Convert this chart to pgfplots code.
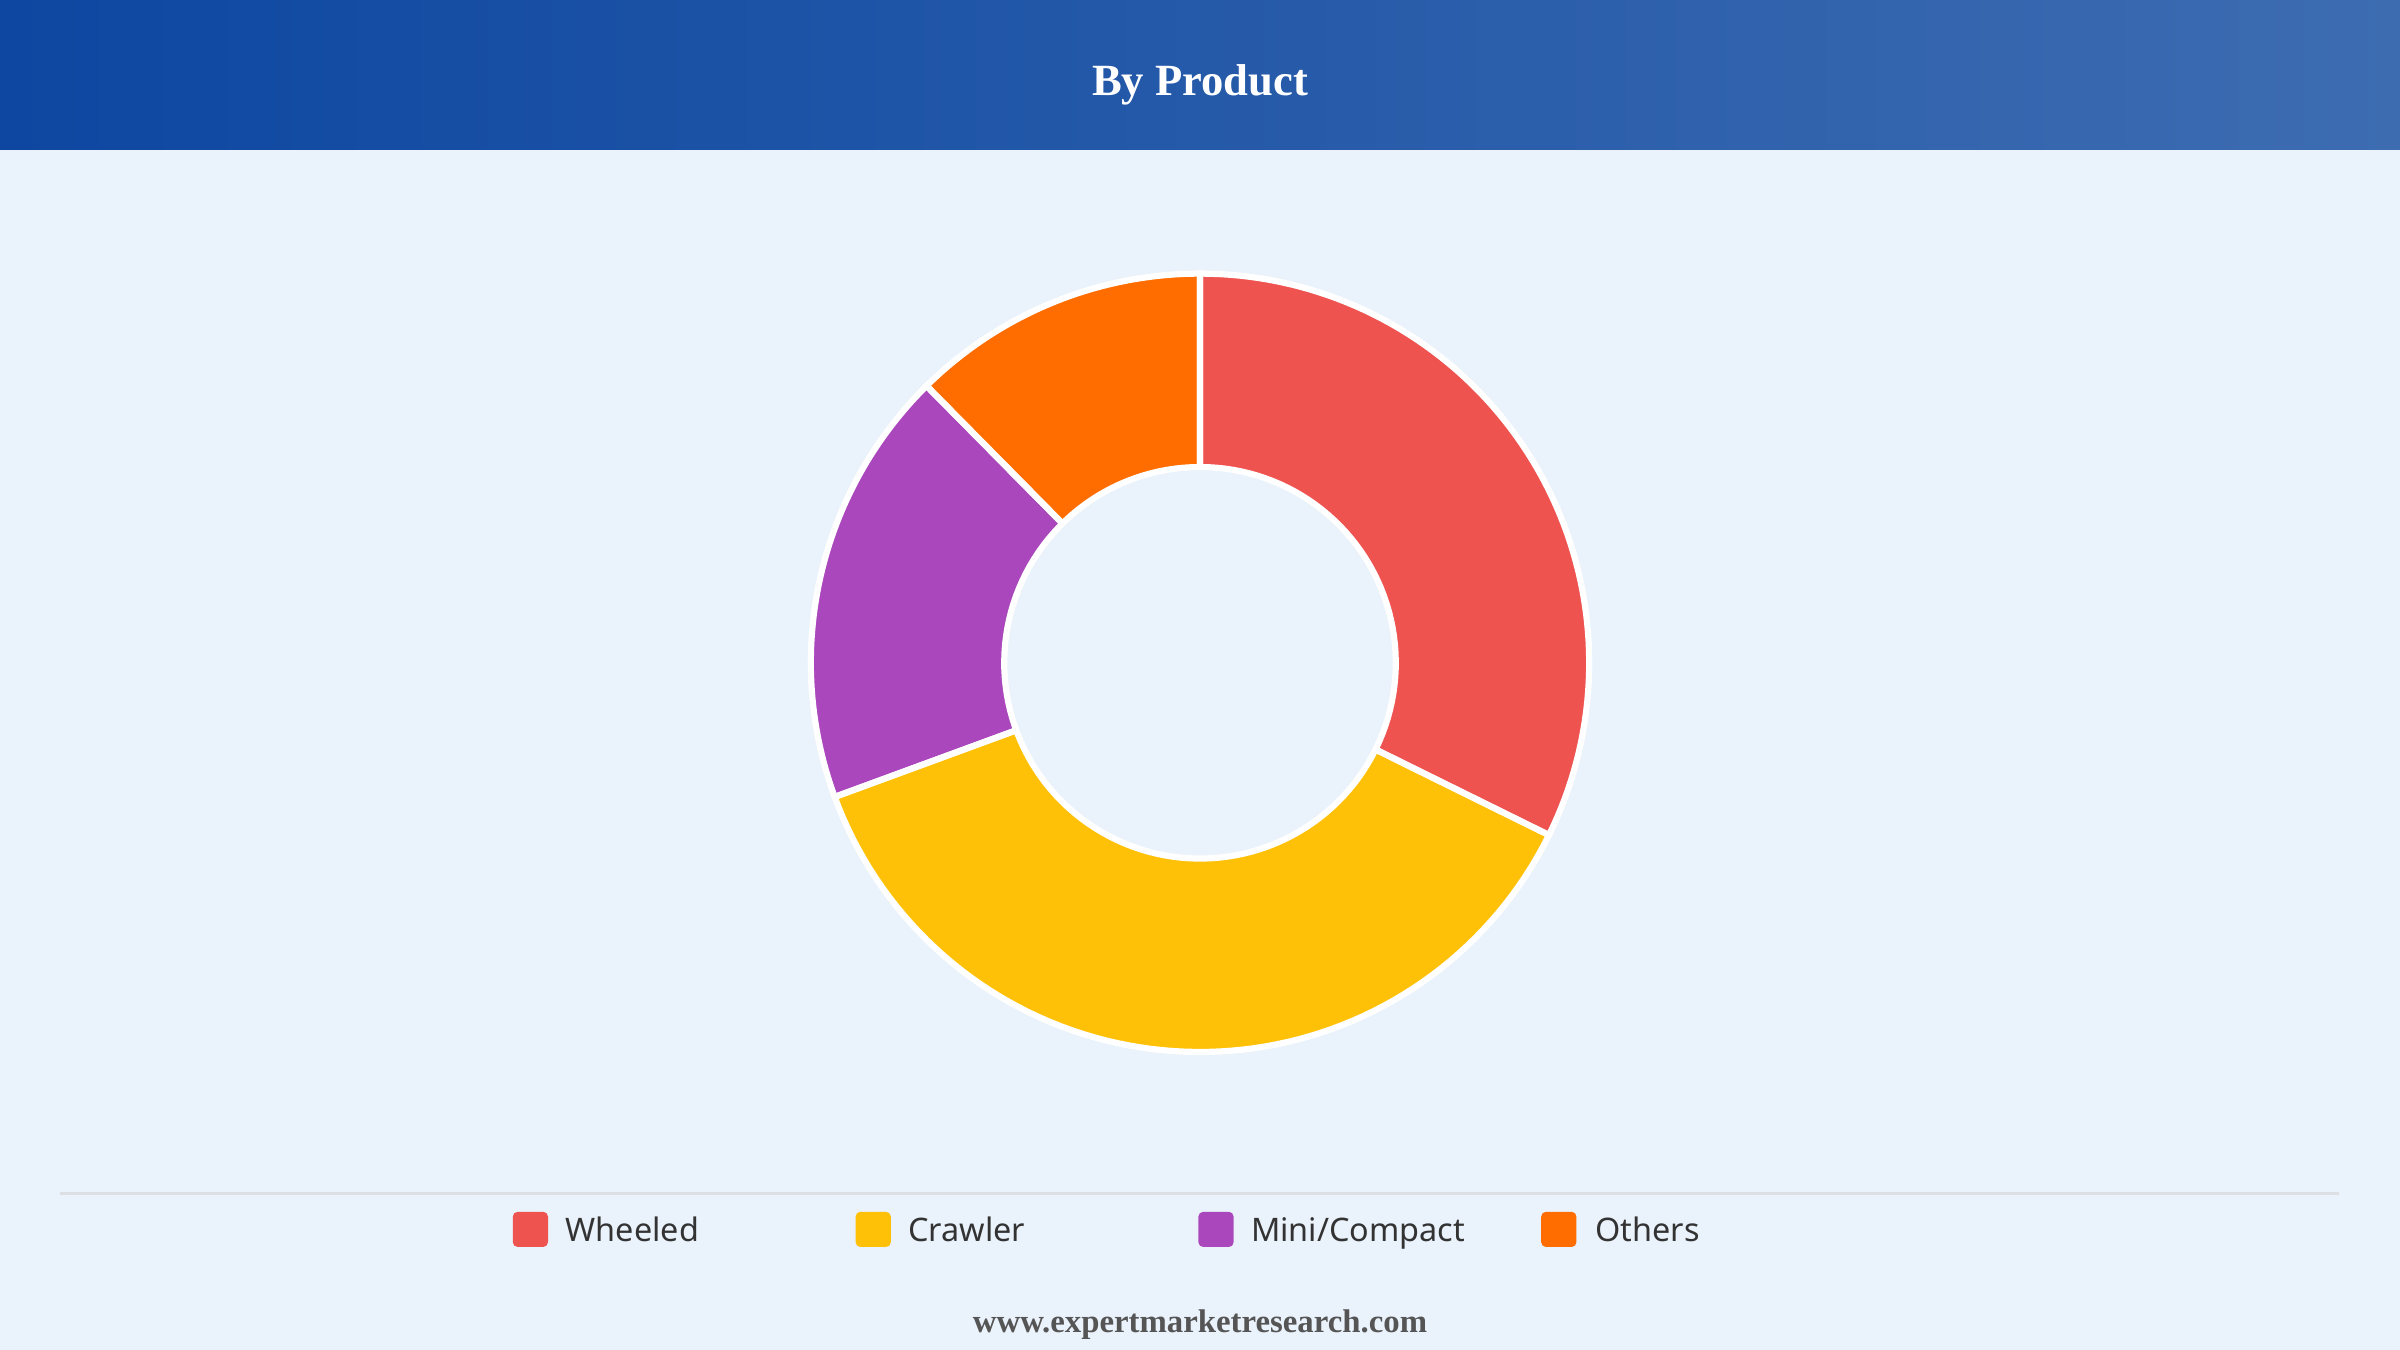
\documentclass[border=0pt]{standalone}
\usepackage{pgfplots}
\pgfplotsset{compat=1.18}
\usepackage{pgfplotstable}
\usepackage{fontspec}
\setmainfont{Liberation Serif}
\newfontfamily\legfont{Noto Sans}
\definecolor{bg}{HTML}{EAF2FB}
\definecolor{hdrL}{HTML}{0D47A1}
\definecolor{hdrR}{HTML}{3D6CB1}
\definecolor{cW}{HTML}{EF5350}
\definecolor{cC}{HTML}{FFC107}
\definecolor{cM}{HTML}{AB47BC}
\definecolor{cO}{HTML}{FF6D00}
\definecolor{sep}{HTML}{DCDFE3}
\definecolor{txt}{HTML}{333333}
\definecolor{ft}{HTML}{555555}
\pgfplotstableread{
label value
Wheeled 32.3
Crawler 37.1
Mini/Compact 18.2
Others 12.4
}\shares
\begin{document}%
\begin{tikzpicture}
\pgfplotstablegetelem{0}{value}\of\shares\pgfmathsetmacro\aB{3.6*\pgfplotsretval}
\pgfplotstablegetelem{1}{value}\of\shares\pgfmathsetmacro\aC{\aB+3.6*\pgfplotsretval}
\pgfplotstablegetelem{2}{value}\of\shares\pgfmathsetmacro\aD{\aC+3.6*\pgfplotsretval}
\pgfplotstablegetelem{3}{value}\of\shares\pgfmathsetmacro\aE{\aD+3.6*\pgfplotsretval}
\fill[bg] (0,0) rectangle (600pt,337.5pt);
\shade[left color=hdrL, right color=hdrR] (0,300pt) rectangle (600pt,337.5pt);
\node[anchor=base, inner sep=0, text=white, font=\fontsize{11.15pt}{13pt}\selectfont\bfseries] at (300pt,313.5pt) {By Product};
\begin{axis}[at={(300pt,171.8pt)}, anchor=origin, hide axis, x=97.3pt, y=97.3pt,
  xmin=-1.1, xmax=1.1, ymin=-1.1, ymax=1.1, clip=false]
\addplot[fill=cW, draw=none, domain=0:\aB, samples=80, variable=\t] ({sin(\t)},{cos(\t)}) -- (axis cs:0,0) -- cycle;
\addplot[fill=cC, draw=none, domain=\aB:\aC, samples=80, variable=\t] ({sin(\t)},{cos(\t)}) -- (axis cs:0,0) -- cycle;
\addplot[fill=cM, draw=none, domain=\aC:\aD, samples=80, variable=\t] ({sin(\t)},{cos(\t)}) -- (axis cs:0,0) -- cycle;
\addplot[fill=cO, draw=none, domain=\aD:\aE, samples=80, variable=\t] ({sin(\t)},{cos(\t)}) -- (axis cs:0,0) -- cycle;
\addplot[draw=white, line width=1.55pt, domain=0:\aB, samples=80, variable=\t] ({sin(\t)},{cos(\t)}) -- (axis cs:0,0) -- cycle;
\addplot[draw=white, line width=1.55pt, domain=\aB:\aC, samples=80, variable=\t] ({sin(\t)},{cos(\t)}) -- (axis cs:0,0) -- cycle;
\addplot[draw=white, line width=1.55pt, domain=\aC:\aD, samples=80, variable=\t] ({sin(\t)},{cos(\t)}) -- (axis cs:0,0) -- cycle;
\addplot[draw=white, line width=1.55pt, domain=\aD:\aE, samples=80, variable=\t] ({sin(\t)},{cos(\t)}) -- (axis cs:0,0) -- cycle;
\addplot[fill=bg, draw=white, line width=1.55pt, domain=0:360, samples=150, variable=\t] ({0.503*sin(\t)},{0.503*cos(\t)}) -- cycle;
\end{axis}
\draw[sep, line width=0.75pt] (15pt,39pt) -- (584.75pt,39pt);
\fill[cW, rounded corners=1.2pt] (128.2pt,25.75pt) rectangle ++(8.8pt,8.8pt);
\fill[cC, rounded corners=1.2pt] (213.9pt,25.75pt) rectangle ++(8.8pt,8.8pt);
\fill[cM, rounded corners=1.2pt] (299.6pt,25.75pt) rectangle ++(8.8pt,8.8pt);
\fill[cO, rounded corners=1.2pt] (385.3pt,25.75pt) rectangle ++(8.8pt,8.8pt);
\node[anchor=base west, inner sep=0, text=txt, font=\legfont\fontsize{8.1pt}{10pt}\selectfont] at (141.25pt,27.2pt) {Wheeled};
\node[anchor=base west, inner sep=0, text=txt, font=\legfont\fontsize{8.1pt}{10pt}\selectfont] at (226.9pt,27.2pt) {Crawler};
\node[anchor=base west, inner sep=0, text=txt, font=\legfont\fontsize{8.1pt}{10pt}\selectfont] at (312.6pt,27.2pt) {Mini/Compact};
\node[anchor=base west, inner sep=0, text=txt, font=\legfont\fontsize{8.1pt}{10pt}\selectfont] at (398.7pt,27.2pt) {Others};
\node[anchor=base, inner sep=0, text=ft, font=\fontsize{8.2pt}{10pt}\selectfont\bfseries] at (300pt,4.5pt) {www.expertmarketresearch.com};
\end{tikzpicture}%
\end{document}
